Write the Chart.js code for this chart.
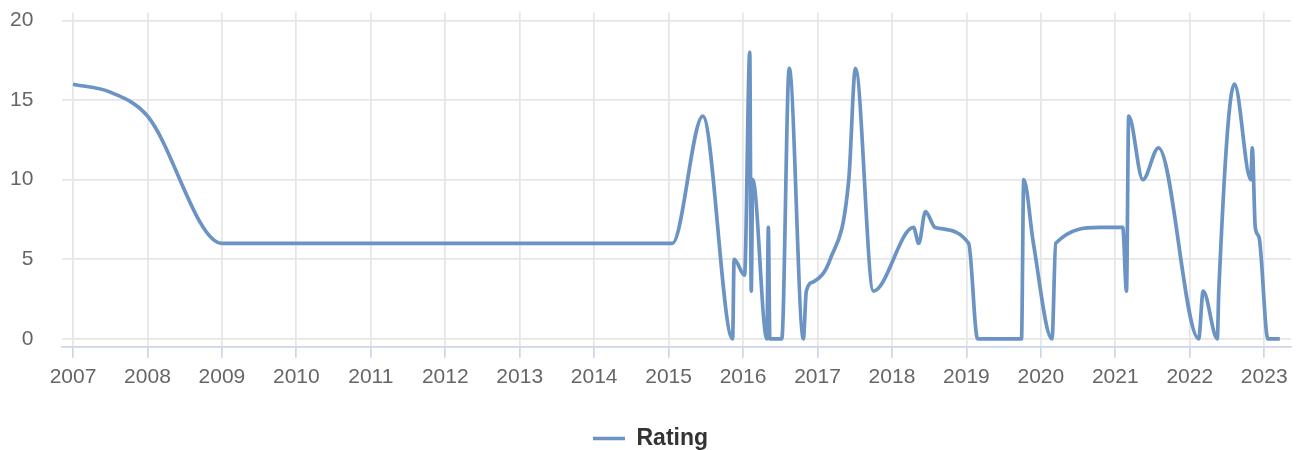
<!DOCTYPE html>
<html>
<head>
<meta charset="utf-8">
<script src="https://cdn.jsdelivr.net/npm/chart.js@4"></script>
<style>
  html, body { margin: 0; background: #fff; overflow: hidden; }
  #view { width: 1300px; height: 450px; overflow: hidden; }
  #wrap { width: 1300px; height: 460px; position: relative; }
</style>
</head>
<body>
<div id="view"><div id="wrap"><canvas id="chart"></canvas></div></div>
<script>
// dates as decimal years
const years = [
    2007.0, 2007.5, 2008.0, 2009.0, 2015.05, 2015.46, 2015.86, 2015.88, 2016.02,
    2016.09, 2016.11, 2016.13, 2016.32, 2016.34, 2016.36, 2016.52, 2016.62,
    2016.81, 2016.85, 2016.95, 2017.17, 2017.42, 2017.51, 2017.75, 2018.29,
    2018.36, 2018.45, 2018.58, 2019.03, 2019.15, 2019.74, 2019.77, 2019.9,
    2020.15, 2020.2, 2020.8, 2021.1, 2021.15, 2021.18, 2021.37, 2021.58,
    2022.12, 2022.18, 2022.37, 2022.39, 2022.6, 2022.82, 2022.84, 2022.88,
    2022.93, 2023.05, 2023.21
];
const ratings = [
    16, 15.5, 14, 6, 6, 14, 0, 5, 4,
    18, 3, 10, 0, 7, 0, 0, 17,
    0, 3, 3.6, 5, 10, 17, 3, 7,
    6, 8, 7, 6, 0, 0, 10, 6,
    0, 6, 7, 7, 3, 14, 10, 12,
    0, 3, 0, 3, 16, 10, 12, 7,
    6.4, 0, 0
];
const yearTicks = [2007, 2008, 2009, 2010, 2011, 2012, 2013, 2014, 2015,
    2016, 2017, 2018, 2019, 2020, 2021, 2022, 2023];
const ratingTicks = [0, 5, 10, 15, 20];

const lineColor = '#6b93c4';
const fontFamily = 'Liberation Sans, Arial, sans-serif';
const points = years.map((x, i) => ({ x: x, y: ratings[i] }));

new Chart(document.getElementById('chart'), {
    type: 'line',
    data: {
        datasets: [{
            label: 'Rating',
            data: points,
            borderColor: lineColor,
            backgroundColor: lineColor,
            borderWidth: 3.7,
            pointRadius: 0,
            cubicInterpolationMode: 'monotone',
            fill: false
        }]
    },
    options: {
        responsive: true,
        maintainAspectRatio: false,
        animation: false,
        layout: { padding: { left: 10, right: 9, top: 0, bottom: 0 } },
        plugins: {
            tooltip: { enabled: false },
            legend: {
                position: 'bottom',
                labels: {
                    usePointStyle: true,
                    pointStyle: 'line',
                    pointStyleWidth: 32,
                    color: '#333333',
                    padding: 0,
                    font: { family: fontFamily, size: 23, weight: 'bold' }
                }
            }
        },
        scales: {
            x: {
                type: 'linear',
                min: 2006.857,
                max: 2023.36,
                afterBuildTicks: (scale) => {
                    scale.ticks = yearTicks.map(v => ({ value: v }));
                },
                afterFit: (scale) => {
                    scale.height += 30;
                },
                grid: {
                    color: '#e6e6e6',
                    tickColor: '#ccd6eb',
                    tickLength: 11,
                    lineWidth: 1.75
                },
                border: { color: '#ccd6eb', width: 1.75 },
                ticks: {
                    color: '#666666',
                    padding: 7,
                    maxRotation: 0,
                    autoSkip: false,
                    font: { family: fontFamily, size: 21 },
                    callback: (v) => String(v)
                }
            },
            y: {
                min: -0.5,
                max: 20.5,
                afterBuildTicks: (scale) => {
                    scale.ticks = ratingTicks.map(v => ({ value: v }));
                },
                grid: {
                    color: '#e6e6e6',
                    tickColor: 'rgba(0,0,0,0)',
                    tickLength: 29,
                    lineWidth: 1.75
                },
                border: { display: false },
                ticks: {
                    color: '#666666',
                    padding: 0,
                    font: { family: fontFamily, size: 21 }
                }
            }
        }
    }
});
</script>
</body>
</html>
